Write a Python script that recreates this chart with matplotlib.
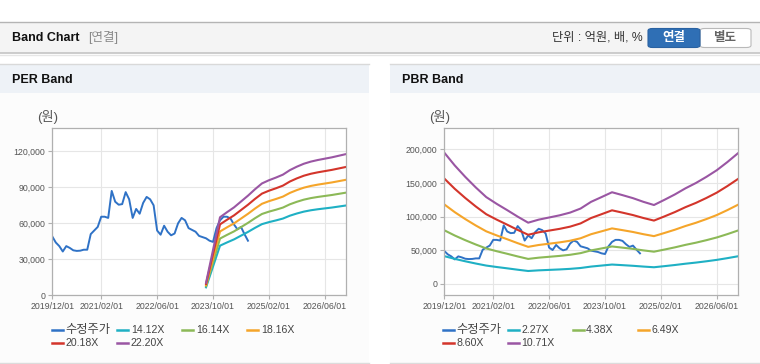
import matplotlib
matplotlib.use("Agg")
import matplotlib.pyplot as plt
from matplotlib.patches import Rectangle, FancyBboxPatch
from matplotlib.lines import Line2D

plt.rcParams['font.family'] = ['Liberation Sans', 'Noto Sans CJK KR']

# ---------------------------------------------------------------
# data (x = months since 2019/12)
# ---------------------------------------------------------------
TICK_MONTHS = [0, 14, 30, 46, 62, 78]
TICK_LABELS = ["2019/12/01", "2021/02/01", "2022/06/01",
               "2023/10/01", "2025/02/01", "2026/06/01"]

PRICE = [49000, 44000, 41000, 36500, 41000, 39500, 37500, 37000, 37200, 38000,
         38000, 51000, 54000, 57000, 65500, 65500, 64500, 87000, 78000, 75500,
         76000, 86000, 80000, 64500, 72000, 68000, 77000, 82000, 80000, 75000,
         54000, 50500, 58000, 53000, 50000, 51500, 60000, 64500, 62500, 56000,
         54500, 53000, 49500, 48500, 47500, 45500, 44500, 56000, 62500, 65500,
         65500, 64000, 59000, 55000, 57000, 51000, 45500]

EPS_MONTHS = [44, 48, 50, 52, 54, 56, 58, 60, 62, 64, 66, 68, 70, 72, 74, 76,
              78, 80, 82, 84]
EPS = [470, 2930, 3120, 3300, 3520, 3740, 3980, 4200, 4320, 4420, 4530, 4700,
       4830, 4940, 5020, 5080, 5130, 5180, 5240, 5300]
PER_MULTS = [14.12, 16.14, 18.16, 20.18, 22.20]

BPS_MONTHS = list(range(0, 85, 3))
BPS = [18210, 16430, 14850, 13390, 12050, 11110, 10240, 9340, 8500, 8920,
       9220, 9520, 9900, 10460, 11390, 12050, 12720, 12320, 11900, 11390,
       10950, 11670, 12420, 13260, 14000, 14850, 15780, 16900, 18110]
PBR_MULTS = [2.27, 4.38, 6.49, 8.60, 10.71]

PRICE_LABEL = "수정주가"
PRICE_COLOR = "#2f72c6"
BAND_COLORS = ["#1fb0c4", "#8cb957", "#f5a52a", "#d3352b", "#9a56a3"]

W, H = 760, 364
fig = plt.figure(figsize=(W / 100, H / 100), dpi=100)
fig.patch.set_facecolor("white")


def box(x0, y0, x1, y1, **kw):
    # pixel coords, y measured from the top
    fig.patches.append(Rectangle((x0 / W, 1 - y1 / H), (x1 - x0) / W, (y1 - y0) / H,
                                 transform=fig.transFigure, zorder=-5, **kw))


def hline(x0, x1, y, color, lw=1.0):
    fig.add_artist(Line2D([x0 / W, x1 / W], [1 - y / H, 1 - y / H], zorder=-4,
                          color=color, lw=lw, transform=fig.transFigure))


def txt(x, y, s, **kw):
    fig.text(x / W, 1 - y / H, s, va="center", **kw)


# --- top header bar ---
box(0, 22, 760, 53, fc="#f4f4f4", ec="none")
hline(0, 760, 22, "#b4b4b4")
hline(0, 760, 53, "#c4c4c4", lw=1.2)
hline(0, 760, 54.5, "#e6e6e6", lw=1.0)
txt(12, 38, "Band Chart", fontsize=9, fontweight="bold", color="#111")
txt(88, 38, "[연결]", fontsize=9, color="#8a8a8a")
txt(552, 38, "단위 : 억원, 배, %", fontsize=8.8, color="#333")
fig.patches.append(FancyBboxPatch((700 / W, 1 - 47.5 / H), 51 / W, 19 / H,
                                  boxstyle="round,pad=0,rounding_size=0.006", zorder=-3,
                                  transform=fig.transFigure, fc="white", ec="#b9b9b9", lw=0.8))
fig.patches.append(FancyBboxPatch((648 / W, 1 - 47.5 / H), 52 / W, 19 / H,
                                  boxstyle="round,pad=0,rounding_size=0.006", zorder=-3,
                                  transform=fig.transFigure, fc="#2f6fb5", ec="#2a62a2", lw=0.8))
txt(674, 38, "연결", fontsize=9, fontweight="bold", color="white", ha="center")
txt(725, 38, "별도", fontsize=9, fontweight="bold", color="#666", ha="center")

# --- panels ---
panels = [(0, 369, "PER Band"), (390, 760, "PBR Band")]
for x0, x1, title in panels:
    box(x0, 64, x1, 363, fc="#fcfcfc", ec="none")
    box(x0, 64, x1, 93, fc="#eef2f7", ec="none")
    hline(x0, x1, 64, "#d9d9d9")
    hline(x0, x1, 363, "#dcdcdc")
    txt(x0 + 12, 80, title, fontsize=9, fontweight="bold", color="#111")


def setup_axes(left_px, ylim, yticks):
    ax = fig.add_axes([left_px / W, 1 - 295.3 / H, 293.5 / W, 167 / H])
    ax.set_facecolor("white")
    ax.set_xlim(0, 84)
    ax.set_ylim(*ylim)
    ax.set_xticks(TICK_MONTHS)
    ax.set_xticklabels(TICK_LABELS)
    ax.set_yticks(yticks)
    ax.set_yticklabels([f"{v:,}" for v in yticks])
    ax.grid(True, color="#e6e6e6", lw=0.8)
    ax.set_axisbelow(True)
    for s in ax.spines.values():
        s.set_color("#b0b0b0")
        s.set_linewidth(0.9)
    ax.tick_params(axis="both", length=3, width=0.8, color="#b0b0b0",
                   labelsize=6.3, labelcolor="#555", pad=2)
    return ax


ax1 = setup_axes(52.3, (0, 139200), [0, 30000, 60000, 90000, 120000])
ax1.plot(range(len(PRICE)), PRICE, color=PRICE_COLOR, lw=1.4)
for m, c in zip(PER_MULTS, BAND_COLORS):
    ax1.plot(EPS_MONTHS, [e * m for e in EPS], color=c, lw=1.5)

ax2 = setup_axes(444.3, (-16800, 231200), [0, 50000, 100000, 150000, 200000])
ax2.plot(range(len(PRICE)), PRICE, color=PRICE_COLOR, lw=1.4)
for m, c in zip(PBR_MULTS, BAND_COLORS):
    ax2.plot(BPS_MONTHS, [b * m for b in BPS], color=c, lw=1.5)

txt(37, 117, "(원)", fontsize=9.5, color="#555")
txt(429, 117, "(원)", fontsize=9.5, color="#555")

# --- legends ---
for x0, mults in [(52.3, PER_MULTS), (442.7, PBR_MULTS)]:
    labels = [PRICE_LABEL] + [f"{m:.2f}X" for m in mults]
    colors = [PRICE_COLOR] + BAND_COLORS
    for i, (lab, col) in enumerate(zip(labels, colors)):
        cx = x0 + 65 * (i % 4)
        cy = 330 + 13.3 * (i // 4)
        fig.add_artist(Line2D([cx / W, (cx + 11) / W], [1 - cy / H, 1 - cy / H],
                              color=col, lw=1.8, transform=fig.transFigure))
        txt(cx + 13.5, cy, lab, fontsize=8.8 if i == 0 else 7.6, color="#444")

fig.savefig("out.png", dpi=100)
